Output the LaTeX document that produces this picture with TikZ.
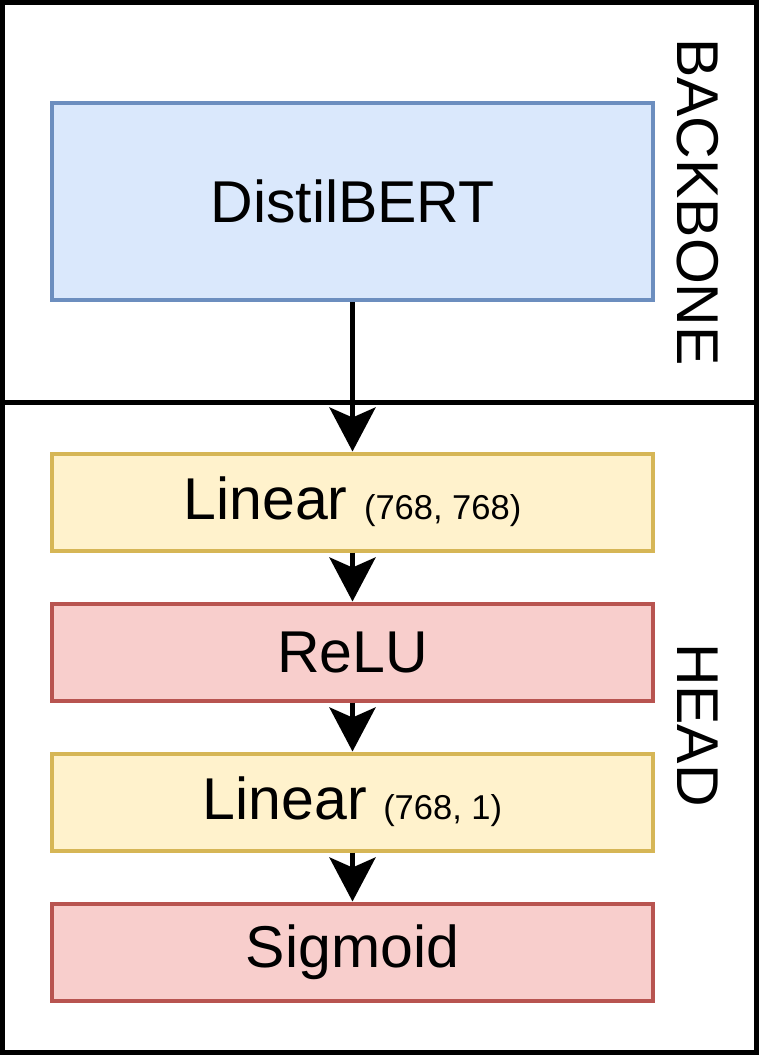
\documentclass[tikz,border=0pt]{standalone}
\usepackage{fontspec}
\setmainfont{Liberation Sans}
\usetikzlibrary{arrows.meta}
\definecolor{bluefill}{HTML}{DAE8FC}
\definecolor{bluedraw}{HTML}{6C8EBF}
\definecolor{yellowfill}{HTML}{FFF2CC}
\definecolor{yellowdraw}{HTML}{D6B656}
\definecolor{redfill}{HTML}{F8CECC}
\definecolor{reddraw}{HTML}{B85450}
\begin{document}
\begin{tikzpicture}[x=1pt,y=-1pt,
  frame/.style={draw=black,line width=5pt},
  layer/.style={rectangle,line width=4pt,minimum width=601pt,minimum height=97pt,inner sep=0pt,
    font=\fontsize{59}{68}\selectfont},
  lin/.style={layer,fill=yellowfill,draw=yellowdraw},
  act/.style={layer,fill=redfill,draw=reddraw},
  arr/.style={draw=black,line width=5pt,-{Stealth[length=44pt,width=46pt,inset=10pt]}},
  sectlabel/.style={rotate=-90,font=\fontsize{59}{68}\selectfont,inner sep=0pt}]
\useasboundingbox (0,0) rectangle (780,1055);
\draw[frame] (2.5,2.5) rectangle (756.5,402.5);
\draw[frame] (2.5,402.5) rectangle (756.5,1052.5);
\node[sectlabel] (backbone) at (698,202) {BACKBONE};
\node[sectlabel] (head) at (698,725) {HEAD};
\node[layer,fill=bluefill,draw=bluedraw,minimum height=197pt] (bert) at (352.5,201.5) {DistilBERT};
\node[lin] (lin1) at (352.5,502) {Linear {\fontsize{34.5}{40}\selectfont (768, 768)}};
\node[act] (relu) at (352.5,652) {ReLU};
\node[lin] (lin2) at (352.5,802) {Linear {\fontsize{34.5}{40}\selectfont (768, 1)}};
\node[act] (sig) at (352.5,952) {Sigmoid};
\draw[arr] (bert.south) -- (lin1.north);
\draw[arr] (lin1.south) -- (relu.north);
\draw[arr] (relu.south) -- (lin2.north);
\draw[arr] (lin2.south) -- (sig.north);
\end{tikzpicture}
\end{document}
